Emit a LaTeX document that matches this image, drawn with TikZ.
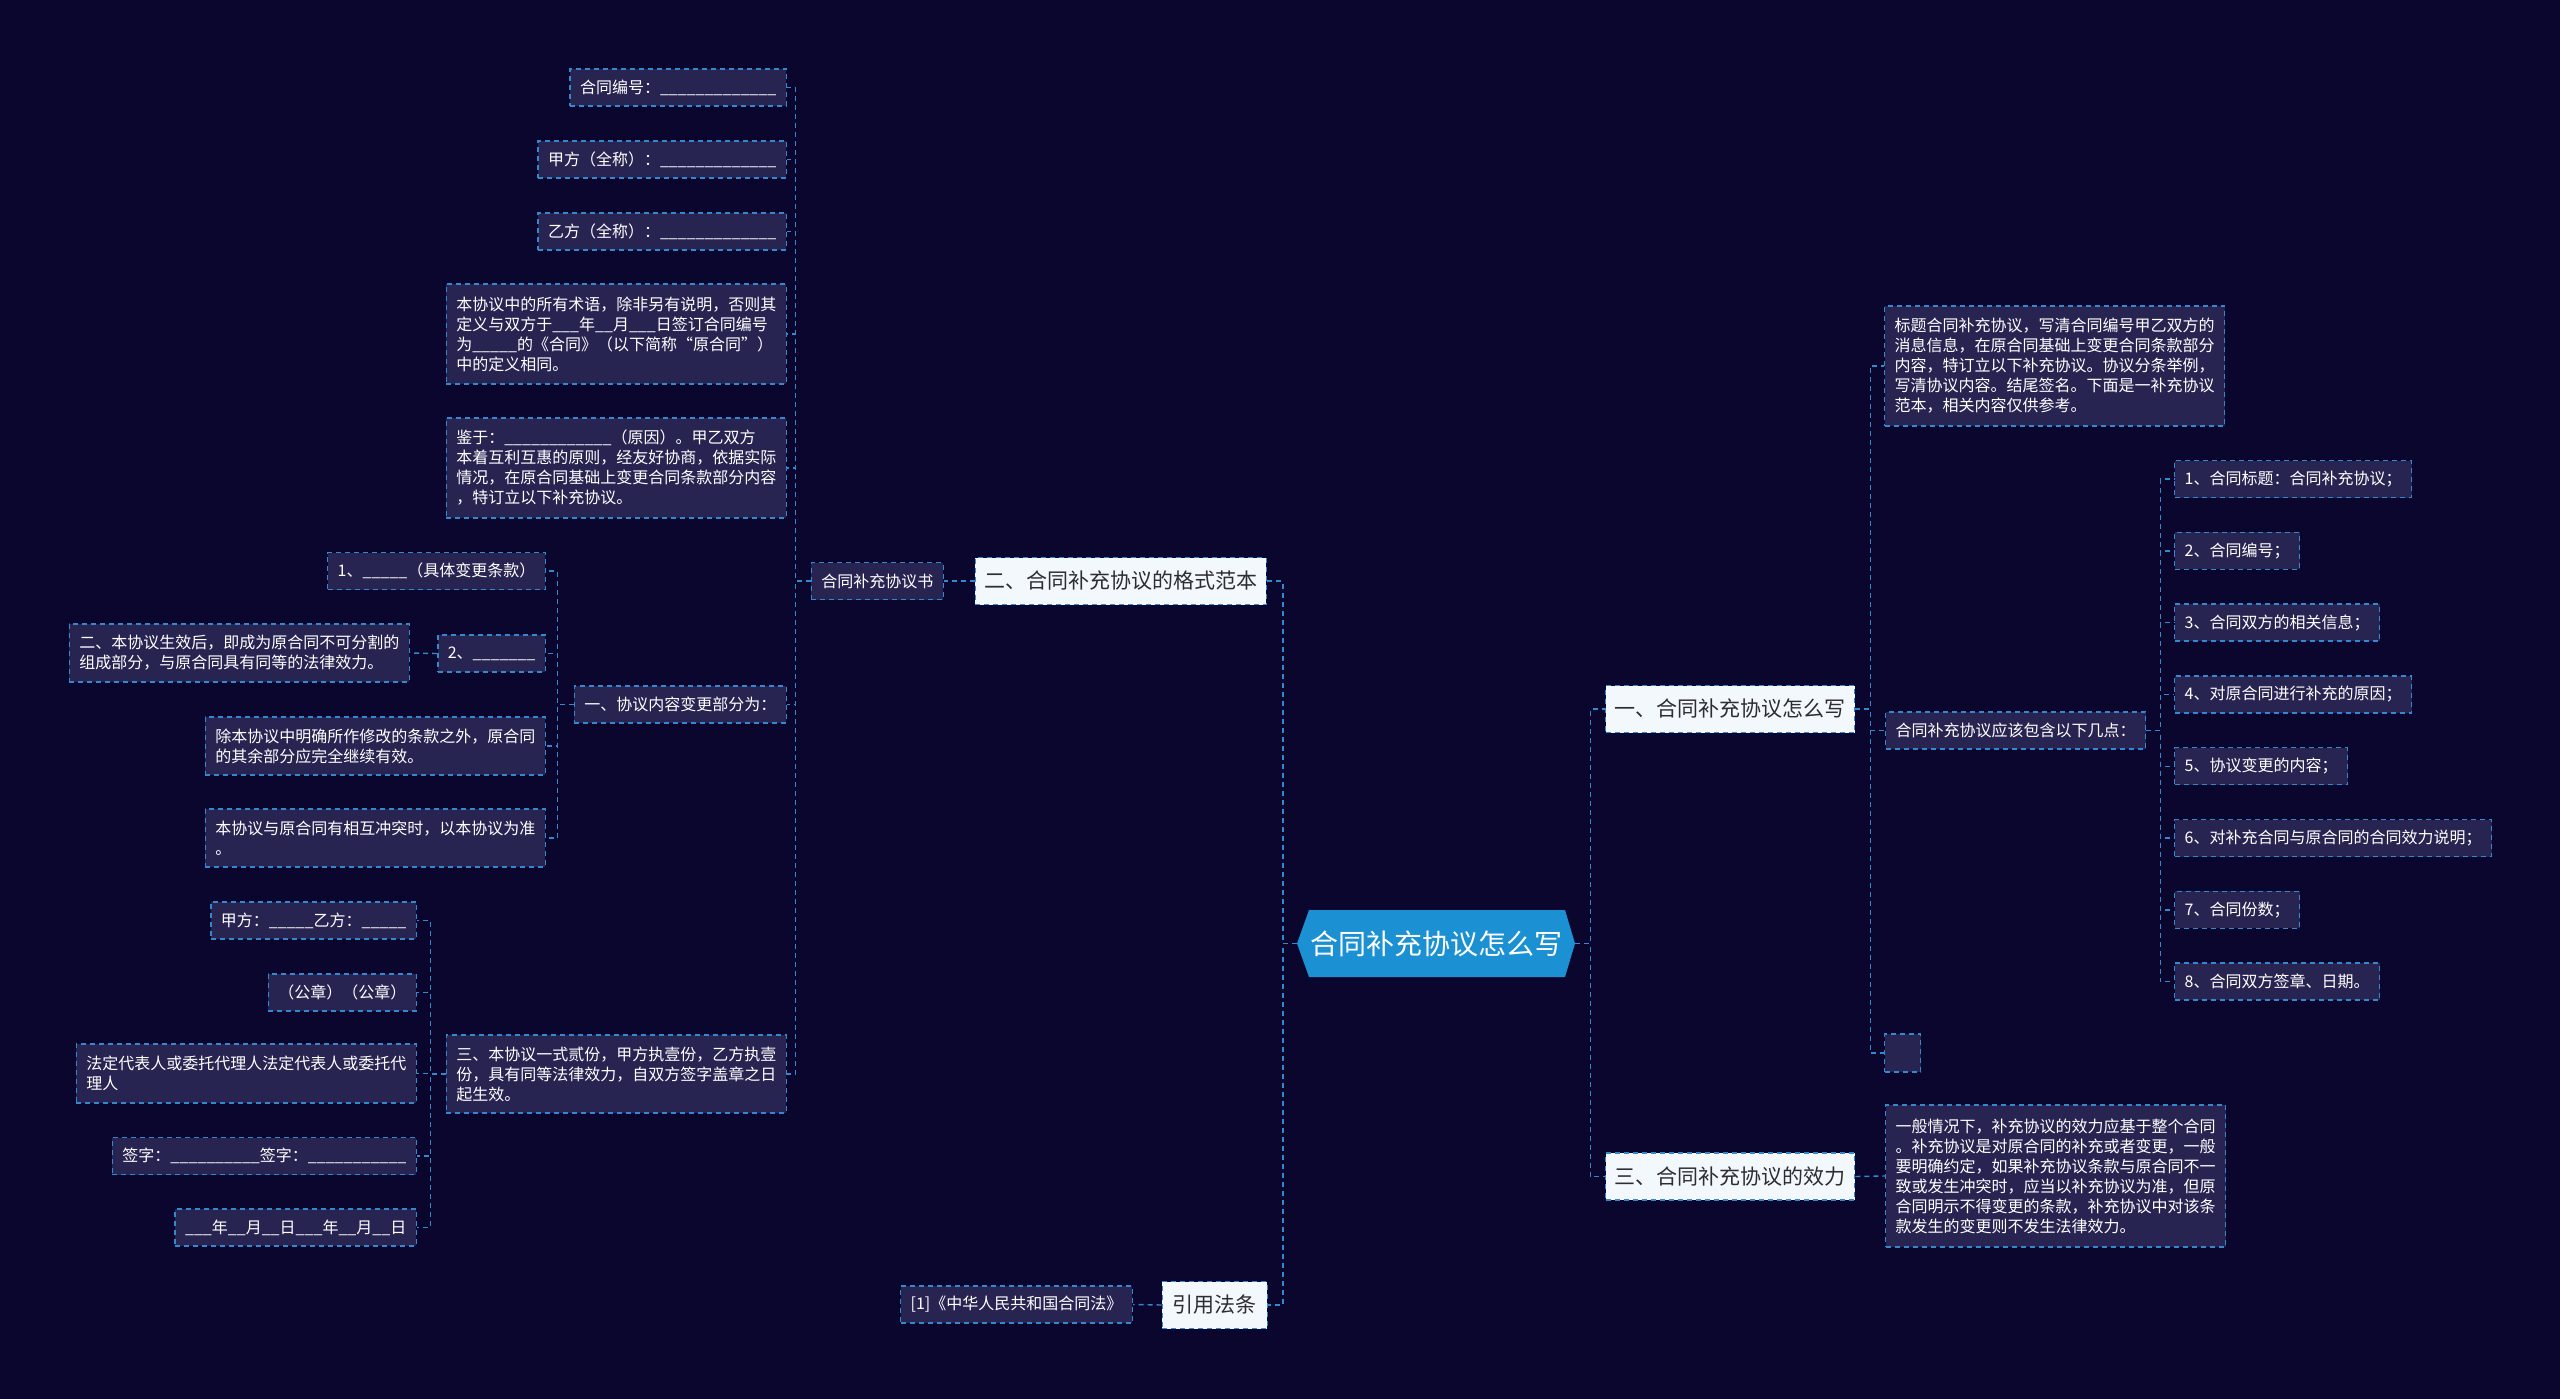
\documentclass[tikz,border=0pt]{standalone}
\usepackage{fontspec}
\setmainfont{Noto Sans CJK SC}
\definecolor{bgc}{RGB}{10,6,46}
\definecolor{boxc}{RGB}{40,36,82}
\definecolor{linec}{RGB}{52,136,206}
\definecolor{lonec}{RGB}{243,248,253}
\definecolor{rootc}{RGB}{27,145,212}
\definecolor{darktext}{RGB}{45,45,50}
\tikzset{
 conn/.style={draw=linec, dash pattern=on 5pt off 4pt, line width=1.4pt},
 leaf/.style={draw=linec, dash pattern=on 5pt off 4pt, line width=1.4pt, fill=boxc, text=white,
   font=\fontsize{16}{20}\selectfont, inner xsep=10pt, inner ysep=0pt, align=left, minimum height=37pt},
 item/.style={leaf, minimum height=37pt, anchor=west},
 lone/.style={draw=linec, dash pattern=on 5pt off 4pt, line width=1.4pt, fill=lonec, text=darktext,
   font=\fontsize{21}{25}\selectfont, inner sep=0pt, minimum height=47pt, align=center},
 rootn/.style={text=white, font=\fontsize{28}{32}\selectfont, inner sep=0pt, minimum width=278pt, minimum height=67pt},
}
\begin{document}
\begin{tikzpicture}[x=1pt,y=-1pt]
\useasboundingbox (0,0) rectangle (2560,1399);
\fill[bgc] (0,0) rectangle (2560,1399);
% root
\fill[rootc] (1297,943.5) -- (1309,910) -- (1565,910) -- (1575,943.5) -- (1565,977) -- (1309,977) -- cycle;
\node[rootn] (root) at (1436,943.5) {合同补充协议怎么写};
% level 1
\node[lone, minimum width=291pt, anchor=east] (fmt) at (1267,581) {二、合同补充协议的格式范本};
\node[lone, minimum width=105pt, anchor=east] (law) at (1268,1305) {引用法条};
\node[lone, minimum width=249pt, anchor=west] (how) at (1605,709) {一、合同补充协议怎么写};
\node[lone, minimum width=249pt, anchor=west] (eff) at (1605,1176.5) {三、合同补充协议的效力};
% left side
\node[leaf, anchor=east] (book) at (944,581) {合同补充协议书};
\node[leaf, anchor=east] (hno) at (787,87.5) {合同编号：\_\_\_\_\_\_\_\_\_\_\_\_\_};
\node[leaf, anchor=east] (jia) at (787,159.5) {甲方（全称）：\_\_\_\_\_\_\_\_\_\_\_\_\_};
\node[leaf, anchor=east] (yi) at (787,231.5) {乙方（全称）：\_\_\_\_\_\_\_\_\_\_\_\_\_};
\node[leaf, anchor=east, minimum height=100pt] (def) at (787,334) {本协议中的所有术语，除非另有说明，否则其\\定义与双方于\_\_\_年\_\_月\_\_\_日签订合同编号\\为\_\_\_\_\_的《合同》（以下简称“原合同”）\\中的定义相同。};
\node[leaf, anchor=east, minimum height=100pt] (jianyu) at (787,468) {鉴于：\_\_\_\_\_\_\_\_\_\_\_\_（原因）。甲乙双方\\本着互利互惠的原则，经友好协商，依据实际\\情况，在原合同基础上变更合同条款部分内容\\，特订立以下补充协议。};
\node[leaf, anchor=east] (chg) at (787,704.5) {一、协议内容变更部分为：};
\node[leaf, anchor=east, minimum height=78pt] (three) at (787,1074) {三、本协议一式贰份，甲方执壹份，乙方执壹\\份，具有同等法律效力，自双方签字盖章之日\\起生效。};
\node[leaf, anchor=east] (c1) at (546,571) {1、\_\_\_\_\_（具体变更条款）};
\node[leaf, anchor=east] (c2) at (546,653.5) {2、\_\_\_\_\_\_\_};
\node[leaf, anchor=east, minimum height=58pt] (c3) at (546,746) {除本协议中明确所作修改的条款之外，原合同\\的其余部分应完全继续有效。};
\node[leaf, anchor=east, minimum height=58pt] (c4) at (546,838) {本协议与原合同有相互冲突时，以本协议为准\\。};
\node[leaf, anchor=east, minimum height=58pt] (c2a) at (410,653) {二、本协议生效后，即成为原合同不可分割的\\组成部分，与原合同具有同等的法律效力。};
\node[leaf, anchor=east] (s1) at (417,920.5) {甲方：\_\_\_\_\_乙方：\_\_\_\_\_};
\node[leaf, anchor=east] (s2) at (417,992.5) {（公章）（公章）};
\node[leaf, anchor=east, minimum height=59pt] (s3) at (417,1073.5) {法定代表人或委托代理人法定代表人或委托代\\理人};
\node[leaf, anchor=east] (s4) at (417,1156) {签字：\_\_\_\_\_\_\_\_\_\_签字：\_\_\_\_\_\_\_\_\_\_\_};
\node[leaf, anchor=east] (s5) at (417,1227.5) {\_\_\_年\_\_月\_\_日\_\_\_年\_\_月\_\_日};
\node[leaf, anchor=east] (ref) at (1133,1304.5) {[1]《中华人民共和国合同法》};
% right side
\node[leaf, anchor=west, minimum height=120pt] (title) at (1884,366) {标题合同补充协议，写清合同编号甲乙双方的\\消息信息，在原合同基础上变更合同条款部分\\内容，特订立以下补充协议。协议分条举例，\\写清协议内容。结尾签名。下面是一补充协议\\范本，相关内容仅供参考。};
\node[leaf, anchor=west] (pts) at (1885,730.5) {合同补充协议应该包含以下几点：};
\node[leaf, anchor=west, minimum width=36pt, minimum height=38pt] (empty) at (1884,1053) {};
\node[item] (i1) at (2174,479) {1、合同标题：合同补充协议；};
\node[item] (i2) at (2174,550.8) {2、合同编号；};
\node[item] (i3) at (2174,622.6) {3、合同双方的相关信息；};
\node[item] (i4) at (2174,694.4) {4、对原合同进行补充的原因；};
\node[item] (i5) at (2174,766.2) {5、协议变更的内容；};
\node[item] (i6) at (2174,838) {6、对补充合同与原合同的合同效力说明；};
\node[item] (i7) at (2174,909.8) {7、合同份数；};
\node[item] (i8) at (2174,981.6) {8、合同双方签章、日期。};
\node[leaf, anchor=west, minimum height=142pt] (effx) at (1885,1176) {一般情况下，补充协议的效力应基于整个合同\\。补充协议是对原合同的补充或者变更，一般\\要明确约定，如果补充协议条款与原合同不一\\致或发生冲突时，应当以补充协议为准，但原\\合同明示不得变更的条款，补充协议中对该条\\款发生的变更则不发生法律效力。};
% connectors
\draw[conn] (root.west) -- ++(-14,0) |- (fmt.east);
\draw[conn] (root.west) -- ++(-14,0) |- (law.east);
\draw[conn] (root.east) -- ++(15,0) |- (how.west);
\draw[conn] (root.east) -- ++(15,0) |- (eff.west);
\draw[conn] (fmt.west) -- (book.east);
\draw[conn] (law.west) -- (ref.east);
\foreach \c in {hno,jia,yi,def,jianyu,chg,three} \draw[conn] (book.west) -- ++(-15,0) |- (\c.east);
\foreach \c in {c1,c2,c3,c4} \draw[conn] (chg.west) -- ++(-16,0) |- (\c.east);
\draw[conn] (c2.west) -- (c2a.east);
\foreach \c in {s1,s2,s3,s4,s5} \draw[conn] (three.west) -- ++(-15,0) |- (\c.east);
\foreach \c in {title,pts,empty} \draw[conn] (how.east) -- ++(15,0) |- (\c.west);
\foreach \c in {i1,i2,i3,i4,i5,i6,i7,i8} \draw[conn] (pts.east) -- ++(14,0) |- (\c.west);
\draw[conn] (eff.east) -- (effx.west);
\end{tikzpicture}
\end{document}
